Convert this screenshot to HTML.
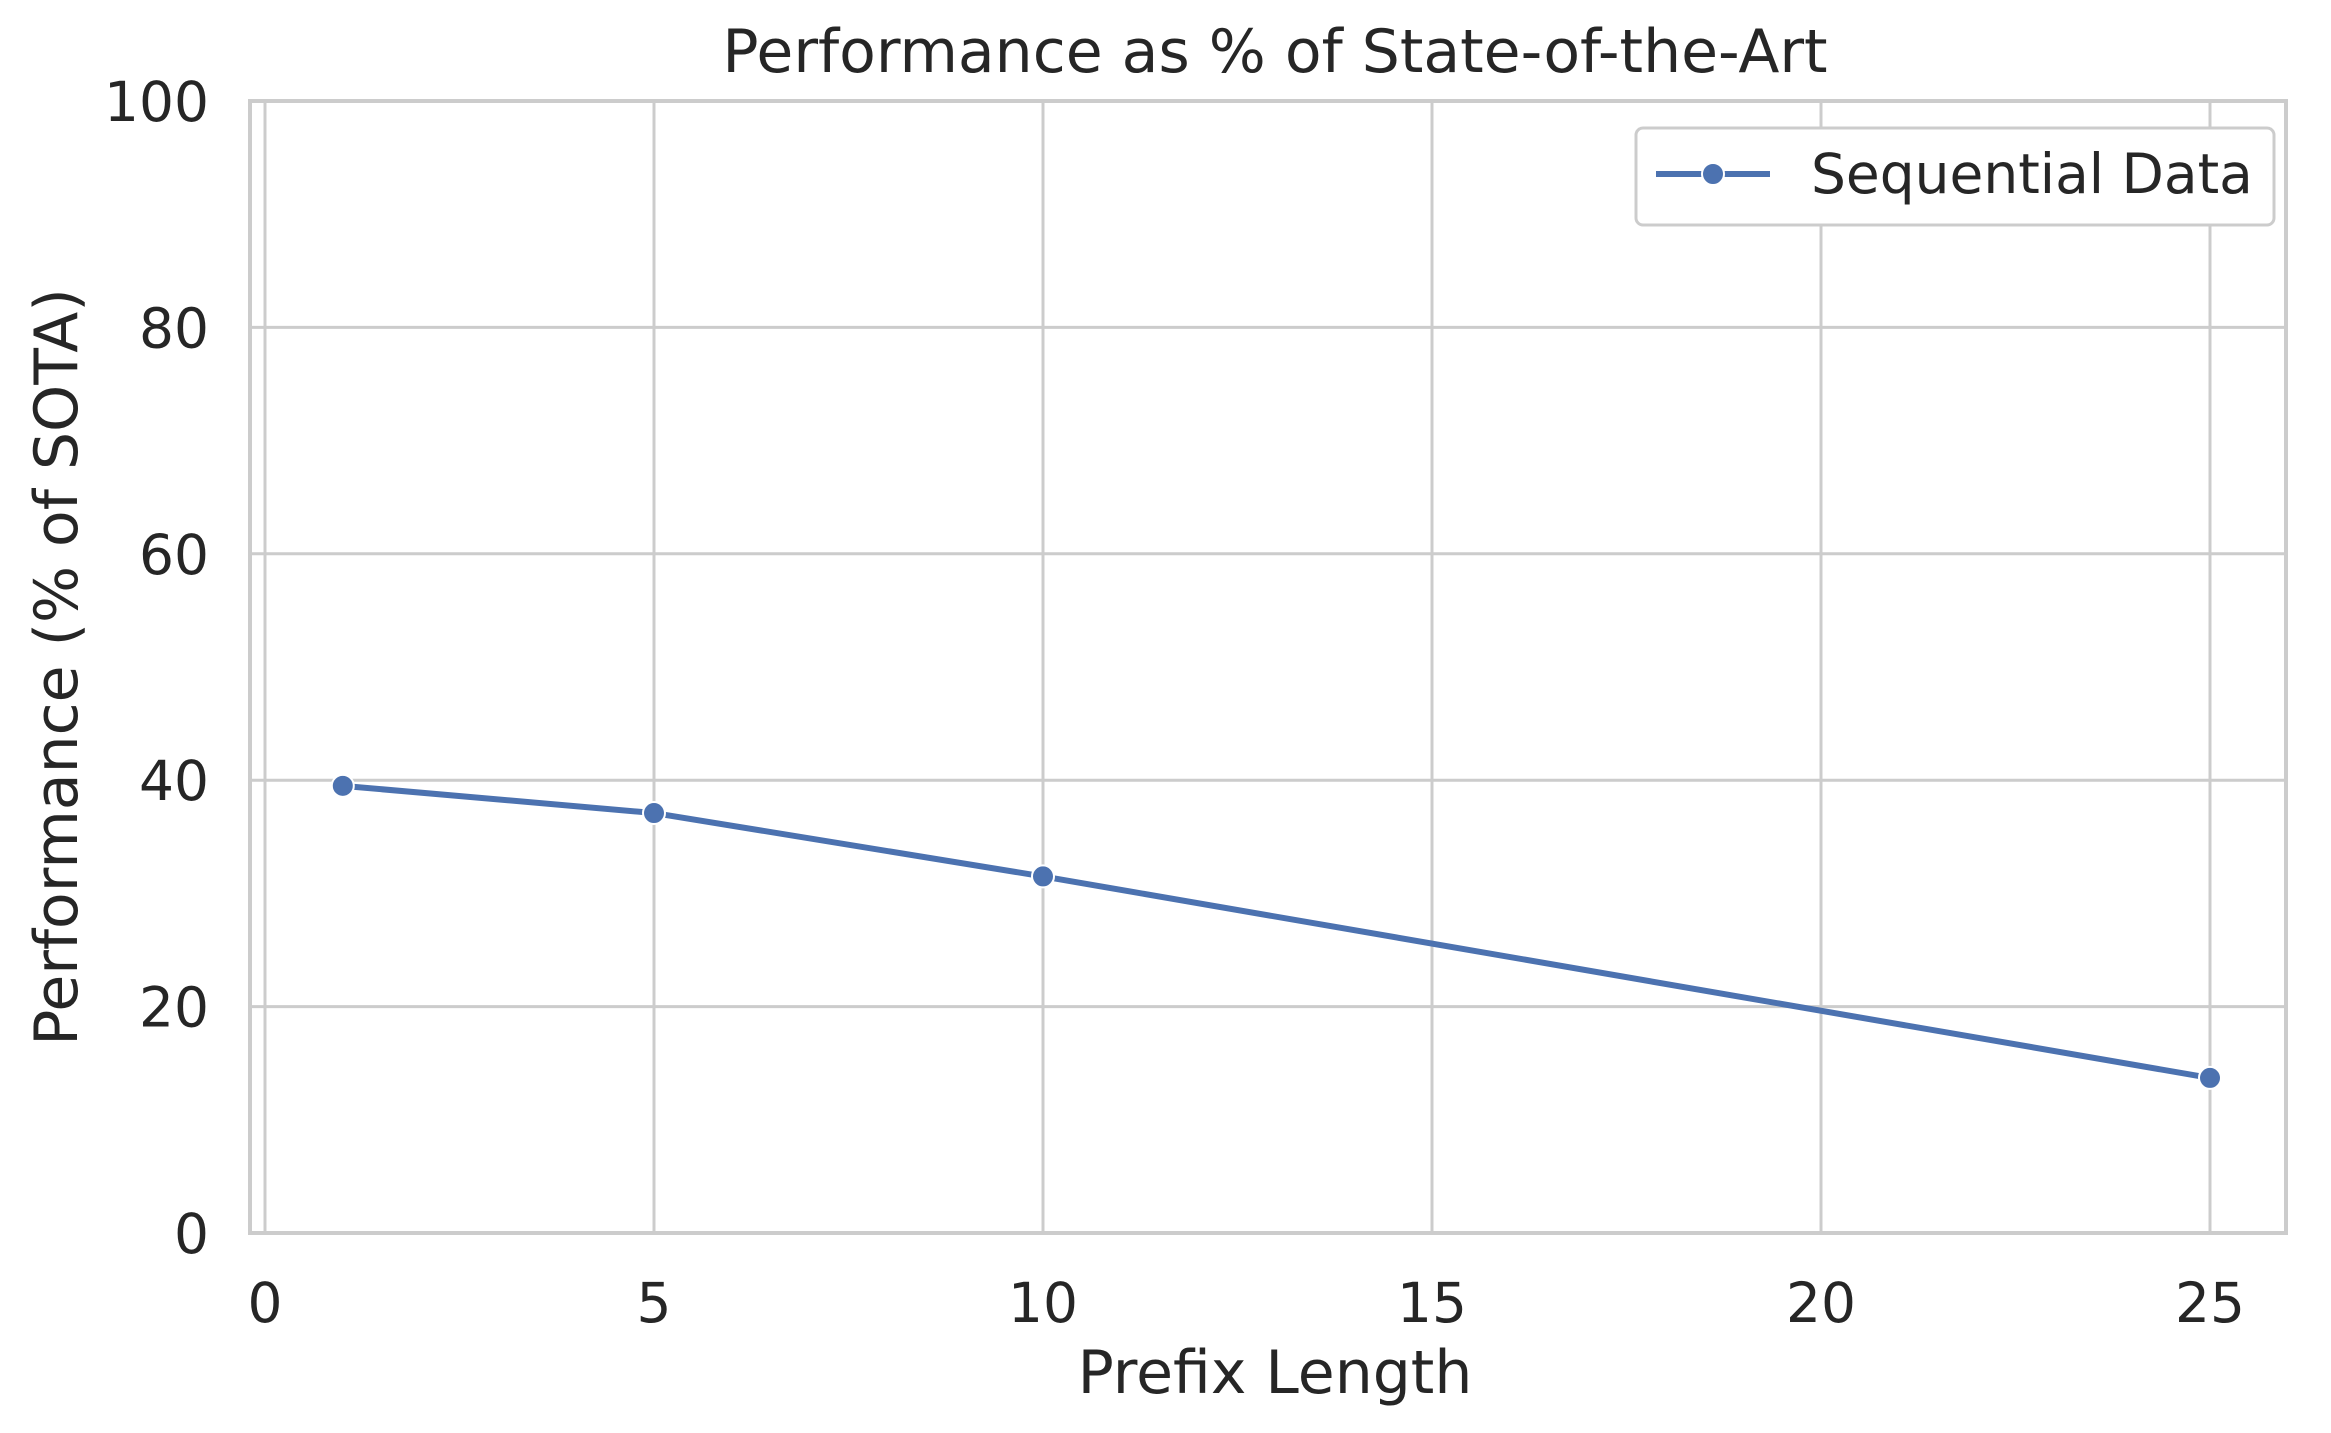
<!DOCTYPE html>
<html><head><meta charset="utf-8"><style>
html,body{margin:0;padding:0;background:#fff}
svg{display:block;font-family:"DejaVu Sans","Liberation Sans",sans-serif}
</style></head><body>
<svg id="chart" width="2331" height="1433" viewBox="0 0 2331 1433" xmlns="http://www.w3.org/2000/svg">
<rect width="2331" height="1433" fill="#fff"/>
<g id="grid"></g>
<rect x="250" y="101" width="2036" height="1132" fill="none" stroke="#cccccc" stroke-width="4"/>
<g id="ticks"></g>
<g id="series"></g>
<text x="1275" y="72" font-size="60" fill="#262626" text-anchor="middle">Performance as % of State-of-the-Art</text>
<text x="1275" y="1393" font-size="60" fill="#262626" text-anchor="middle">Prefix Length</text>
<text x="0" y="0" font-size="60" fill="#262626" text-anchor="middle" transform="translate(77,667) rotate(-90)">Performance (% of SOTA)</text>
<g>
<rect x="1636" y="128" width="638" height="97" rx="7" fill="#fff" stroke="#cccccc" stroke-width="3"/>
<line x1="1656" y1="174" x2="1770" y2="174" stroke="#4c72b0" stroke-width="6"/>
<circle cx="1713" cy="174" r="11" fill="#4c72b0" stroke="#fff" stroke-width="2"/>
<text x="1811" y="193" font-size="55" fill="#262626">Sequential Data</text>
</g>
</svg>
<script>
const xValues = [1, 5, 10, 25];
const yValues = [39.5, 37.1, 31.5, 13.7];
const xTicks = [0, 5, 10, 15, 20, 25];
const yTicks = [0, 20, 40, 60, 80, 100];
const NS = "http://www.w3.org/2000/svg";
function sx(v){return 265 + (v/25)*(2210-265);}
function sy(v){return 1233 - (v/100)*(1233-101);}
function mk(tag, attrs, parent){const e=document.createElementNS(NS,tag);for(const k in attrs)e.setAttribute(k,attrs[k]);parent.appendChild(e);return e;}
const grid=document.getElementById('grid'), ticks=document.getElementById('ticks'), series=document.getElementById('series');
xTicks.forEach(t=>{
  const l=mk('line',{x1:sx(t),x2:sx(t),y1:101,y2:1233,stroke:'#cccccc','stroke-width':3},grid);
  
  
  const tx=mk('text',{x:sx(t),y:1322,'font-size':55,fill:'#262626','text-anchor':'middle'},ticks);
  tx.textContent=t;
  
  
});
yTicks.forEach(t=>{
  const l=mk('line',{x1:250,x2:2286,y1:sy(t),y2:sy(t),stroke:'#cccccc','stroke-width':3},grid);
  
  
  const tx=mk('text',{x:209,y:sy(t)+20,'font-size':55,fill:'#262626','text-anchor':'end'},ticks);
  tx.textContent=t;
  
  
});
const pts=xValues.map((x,i)=>sx(x)+','+sy(yValues[i])).join(' ');
const pl=mk('polyline',{points:pts,fill:'none',stroke:'#4c72b0','stroke-width':6,'stroke-linejoin':'round','stroke-linecap':'round'},series);


xValues.forEach((x,i)=>{
  const c=mk('circle',{cx:sx(x),cy:sy(yValues[i]),r:11,fill:'#4c72b0',stroke:'#fff','stroke-width':2},series);
  
  
});
</script>
</body></html>
